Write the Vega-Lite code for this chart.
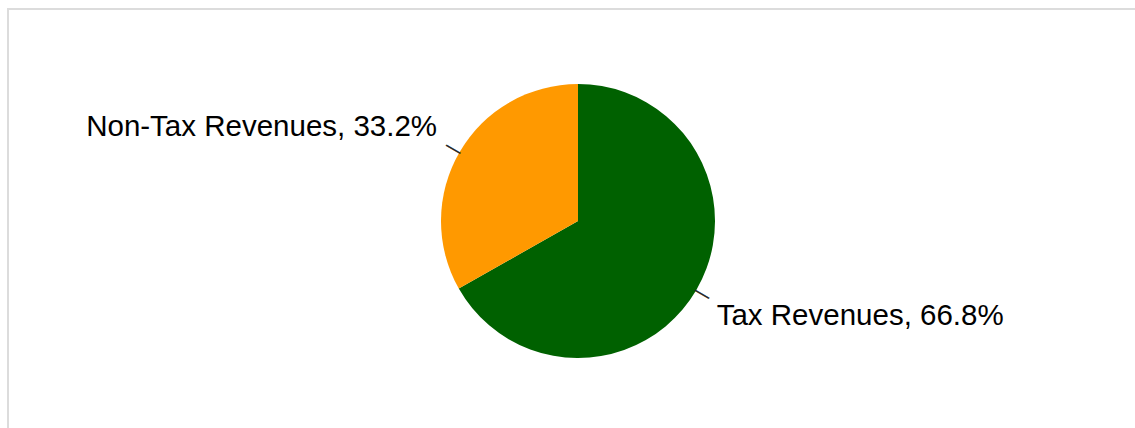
{
  "$schema": "https://vega.github.io/schema/vega-lite/v6.json",
  "width": 1140,
  "height": 424,
  "autosize": {"type": "none"},
  "padding": {"left": 8, "top": 9, "right": -13, "bottom": -5},
  "background": "white",
  "view": {"stroke": "#dcdcdc", "strokeWidth": 2},
  "data": {
    "values": [
      {"category": "Tax Revenues", "value": 66.8, "order": 1},
      {"category": "Non-Tax Revenues", "value": 33.2, "order": 2}
    ]
  },
  "transform": [
    {"window": [{"op": "sum", "field": "value", "as": "cum"}], "sort": [{"field": "order"}], "frame": [null, 0]},
    {"calculate": "datum.cum - datum.value / 2", "as": "mid"},
    {"calculate": "datum.category + ', ' + format(datum.value, '.1f') + '%'", "as": "label"}
  ],
  "layer": [
    {
      "mark": {"type": "arc", "outerRadius": 137},
      "encoding": {
        "theta": {"field": "value", "type": "quantitative", "stack": true, "scale": {"domain": [0, 100]}},
        "color": {
          "field": "category",
          "type": "nominal",
          "scale": {"domain": ["Tax Revenues", "Non-Tax Revenues"], "range": ["#006100", "#ff9900"]},
          "legend": null
        },
        "order": {"field": "order", "type": "quantitative"}
      }
    },
    {
      "mark": {"type": "text", "text": "—", "radius": 144, "angle": 30.2, "fontSize": 16, "font": "Liberation Sans", "fill": "#222", "stroke": "#222", "strokeWidth": 0.5, "align": "center", "baseline": "middle"},
      "encoding": {"theta": {"field": "mid", "type": "quantitative"}}
    },
    {
      "transform": [{"filter": "datum.category == 'Non-Tax Revenues'"}],
      "mark": {"type": "text", "radius": 155, "align": "right", "baseline": "alphabetic", "dx": -7, "dy": -6.5, "fontSize": 29.5, "font": "Liberation Sans", "fill": "#000"},
      "encoding": {"theta": {"field": "mid", "type": "quantitative"}, "text": {"field": "label"}}
    },
    {
      "transform": [{"filter": "datum.category == 'Tax Revenues'"}],
      "mark": {"type": "text", "radius": 155, "align": "left", "baseline": "alphabetic", "dx": 4.8, "dy": 25.5, "fontSize": 29.5, "font": "Liberation Sans", "fill": "#000"},
      "encoding": {"theta": {"field": "mid", "type": "quantitative"}, "text": {"field": "label"}}
    }
  ]
}
